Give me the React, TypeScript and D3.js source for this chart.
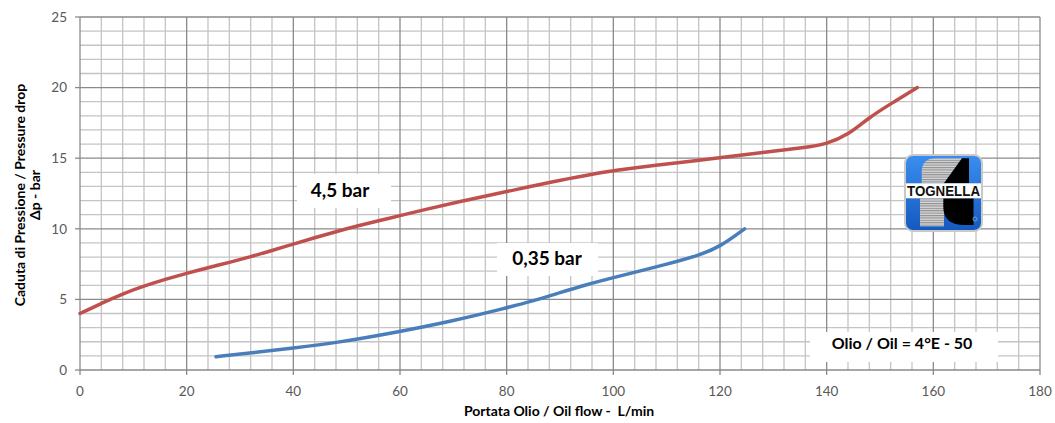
import React from "react";
import * as d3 from "d3";

const xTicks = [0, 20, 40, 60, 80, 100, 120, 140, 160, 180];
const yTicks = [0, 5, 10, 15, 20, 25];

const redX = [0, 4, 8, 12, 16, 20, 24, 28, 32, 36, 40, 44, 48, 52, 56, 60, 64, 72, 80, 88, 96, 100, 108, 116, 120, 128, 136, 140, 144, 148, 152, 157];
const redY = [4.0, 4.72, 5.4, 5.95, 6.42, 6.85, 7.25, 7.62, 8.02, 8.46, 8.92, 9.37, 9.8, 10.2, 10.57, 10.93, 11.3, 12.0, 12.63, 13.3, 13.86, 14.12, 14.52, 14.84, 15.04, 15.4, 15.75, 16.0, 16.64, 17.9, 18.85, 20.0];

const blueX = [25.5, 32, 40, 48, 60, 70, 80, 85, 90, 95, 100, 109.6, 116.25, 120, 124.6];
const blueY = [0.94, 1.2, 1.55, 1.92, 2.72, 3.48, 4.4, 4.9, 5.48, 6.05, 6.55, 7.44, 8.14, 8.73, 10.0];

const seriesLabels = ["4,5 bar", "0,35 bar"];
const noteLabel = "Olio / Oil = 4°E - 50";
const xTitle = "Portata Olio / Oil flow -  L/min";
const yTitle1 = "Caduta di Pressione / Pressure drop";
const yTitle2 = "Δp - bar";

const W = 1055;
const H = 423;

export default function App() {
  const x = d3.scaleLinear().domain([0, 180]).range([80, 1040]);
  const y = d3.scaleLinear().domain([0, 25]).range([370, 17]);

  const minorX = d3.range(0, 181, 4).filter((v) => v % 20 !== 0);
  const minorY = d3.range(0, 26, 1).filter((v) => v % 5 !== 0);

  const line = d3
    .line<[number, number]>()
    .x((d) => x(d[0]))
    .y((d) => y(d[1]))
    .curve(d3.curveBasis);

  const redPts: [number, number][] = redX.map((v, i) => [v, redY[i]]);
  const bluePts: [number, number][] = blueX.map((v, i) => [v, blueY[i]]);

  const font = "Lato, 'Open Sans', sans-serif";

  return (
    <div style={{ position: "absolute", left: 0, top: 0 }}>
      <svg width={W} height={H} style={{ display: "block", background: "#fff" }}>
        <defs>
          <pattern id="stripes" width="4" height="2.4" patternUnits="userSpaceOnUse">
            <rect width="4" height="2.4" fill="#d8d8d8" />
            <rect width="4" height="1.1" fill="#8e8e8e" />
          </pattern>
          <linearGradient id="logoBlue" x1="0" y1="0" x2="0" y2="1">
            <stop offset="0" stopColor="#3b8ef0" />
            <stop offset="1" stopColor="#1459c0" />
          </linearGradient>
        </defs>

        {/* minor grid */}
        <g stroke="#c4c4c4" strokeWidth={1.3}>
          {minorX.map((v) => (
            <line key={"mx" + v} x1={x(v)} x2={x(v)} y1={y(0)} y2={y(25)} />
          ))}
          {minorY.map((v) => (
            <line key={"my" + v} x1={x(0)} x2={x(180)} y1={y(v)} y2={y(v)} />
          ))}
        </g>
        {/* major grid */}
        <g stroke="#8a8a8a" strokeWidth={1.3}>
          {xTicks.map((v) => (
            <line key={"Mx" + v} x1={x(v)} x2={x(v)} y1={y(0)} y2={y(25)} />
          ))}
          {yTicks.map((v) => (
            <line key={"My" + v} x1={x(0)} x2={x(180)} y1={y(v)} y2={y(v)} />
          ))}
        </g>
        {/* ticks */}
        <g stroke="#8a8a8a" strokeWidth={1.3}>
          {xTicks.map((v) => (
            <line key={"tx" + v} x1={x(v)} x2={x(v)} y1={y(0)} y2={y(0) + 5} />
          ))}
          {yTicks.map((v) => (
            <line key={"ty" + v} x1={x(0) - 5} x2={x(0)} y1={y(v)} y2={y(v)} />
          ))}
        </g>

        {/* tick labels */}
        <g fontFamily={font} fontSize={13.5} fill="#595959">
          {xTicks.map((v) => (
            <text key={"lx" + v} x={x(v)} y={396} textAnchor="middle">
              {v}
            </text>
          ))}
          {yTicks.map((v) => (
            <text key={"ly" + v} x={67} y={y(v)} dy="0.36em" textAnchor="end">
              {v}
            </text>
          ))}
        </g>

        {/* curves */}
        <path d={line(redPts) || ""} fill="none" stroke="#c0504d" strokeWidth={3.5} strokeLinecap="round" />
        <path d={line(bluePts) || ""} fill="none" stroke="#4a7ebb" strokeWidth={3.5} strokeLinecap="round" />

        {/* labels */}
        <g fontFamily={font} fontWeight="bold" fill="#000">
          <rect x={297} y={174} width={94} height={34} fill="#fff" />
          <text x={340} y={197} textAnchor="middle" fontSize={19}>{seriesLabels[0]}</text>
          <rect x={497} y={243} width={101} height={33} fill="#fff" />
          <text x={547} y={265} textAnchor="middle" fontSize={19}>{seriesLabels[1]}</text>
          <rect x={810} y={332} width={188} height={30} fill="#fff" />
          <text x={902} y={349} textAnchor="middle" fontSize={16}>{noteLabel}</text>
        </g>

        {/* axis titles */}
        <g fontFamily={font} fontWeight="bold" fontSize={14} fill="#000">
          <text x={559} y={416} textAnchor="middle" style={{ whiteSpace: "pre" }}>{xTitle}</text>
          <text transform={`translate(25,195) rotate(-90)`} textAnchor="middle">{yTitle1}</text>
          <text transform={`translate(40,195) rotate(-90)`} textAnchor="middle">{yTitle2}</text>
        </g>

        {/* logo */}
        <g transform="translate(905,155)">
          <rect x={0} y={0} width={77} height={76} rx={8} fill="url(#logoBlue)" stroke="#c9c9c9" strokeWidth={2} />
          <path d="M16.7 28.3 L16.7 17 Q16.7 3.3 31 3.3 L57 3.3 L39 28.3 Z" fill="url(#stripes)" />
          <path d="M57 3.3 L64 3.3 L64 28.3 L39 28.3 Z" fill="#000" />
          <rect x={15} y={43.3} width={24} height={28} fill="url(#stripes)" />
          <path d="M38.3 43.3 L68.5 43.3 L68.5 70 L60 70 Q38.3 70 38.3 52 Z" fill="#000" />
          <rect x={1} y={28.3} width={75} height={15} fill="#fff" />
          <text x={38.5} y={41} textAnchor="middle" fontFamily="'Liberation Sans', Arial, sans-serif" fontWeight="bold" fontSize={14.5} textLength={73} lengthAdjust="spacingAndGlyphs" fill="#111">
            TOGNELLA
          </text>
          <circle cx={70} cy={64} r={2} fill="none" stroke="#9ab" strokeWidth={0.8} />
        </g>
      </svg>
    </div>
  );
}
